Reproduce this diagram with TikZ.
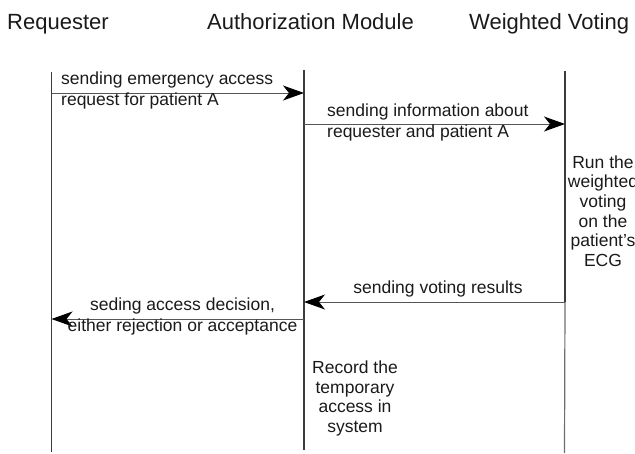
\documentclass[tikz,border=0pt]{standalone}
\usepackage{fontspec}
\setmainfont{Liberation Sans}
\usetikzlibrary{arrows.meta}
\definecolor{ink}{HTML}{1A1A1A}
\definecolor{lifeclr}{HTML}{3C3C3C}
\definecolor{lifelow}{HTML}{6E6E6E}
\definecolor{msgclr}{HTML}{555555}
\tikzset{
  heading/.style={anchor=base west, inner sep=0pt, text=ink, font=\fontsize{22}{26}\selectfont},
  msgtext/.style={inner sep=0pt, text=ink, font=\fontsize{17.5}{21}\selectfont},
  notetext/.style={inner sep=0pt, text=ink, align=center, anchor=base},
  lifeline/.style={draw=lifeclr, line width=1.4pt},
  msg/.style={draw=msgclr, line width=1pt,
    -{Stealth[length=21pt,width=15pt,inset=6pt,color=black,fill=black]}},
}
\begin{document}
\begin{tikzpicture}[x=1pt,y=-1pt]
  \useasboundingbox (0,0) rectangle (635,453);

  % participants
  \node[heading] (hreq)  at (7,29)   {Requester};
  \node[heading] (hauth) at (207,29) {Authorization Module};
  \node[heading] (hwv)   at (469,29) {Weighted Voting};

  % lifelines
  \coordinate (reqtop)  at (51.5,72);
  \coordinate (reqbot)  at (51.5,452);
  \coordinate (authtop) at (304,70);
  \coordinate (authbot) at (304,450);
  \coordinate (wvtop)   at (565,71);
  \coordinate (wvmid)   at (565,302);
  \coordinate (wvbot)   at (564.5,453);
  \draw[lifeline] (reqtop) -- (reqbot);
  \draw[lifeline] (authtop) -- (authbot);
  \draw[lifeline] (wvtop) -- (wvmid);
  \draw[lifeline, draw=lifelow, line width=1.2pt] (wvmid) -- (wvbot);

  % message end points on the lifelines
  \coordinate (r1) at (51.5,93);
  \coordinate (a1) at (304,93);
  \coordinate (a2) at (304,124);
  \coordinate (w2) at (565,124);
  \coordinate (w3) at (565,302);
  \coordinate (a3) at (304,302);
  \coordinate (a4) at (304,319);
  \coordinate (r4) at (51.5,319);

  % messages
  \draw[msg] (r1) -- (a1);
  \node[msgtext, anchor=base west, align=left] (t1) at (61,105)
    {sending emergency access\\request for patient A};

  \draw[msg] (a2) -- (w2);
  \node[msgtext, anchor=base west, align=left] (t2) at (327,137)
    {sending information about\\requester and patient A};

  \draw[msg] (w3) -- (a3);
  \node[msgtext, anchor=base] (t3) at (438,293) {sending voting results};

  \draw[msg] (a4) -- (r4);
  \node[msgtext, anchor=base, align=center] (t4) at (182.5,331)
    {seding access decision,\\either rejection or acceptance};

  % local actions
  \node[notetext, font=\fontsize{17.5}{19.7}\selectfont] (run) at (603,266.5)
    {Run the\\weighted\\voting\\on the\\patient’s\\ECG};
  \node[notetext, font=\fontsize{17.5}{19.5}\selectfont] (rec) at (355,432)
    {Record the\\temporary\\access in\\system};
\end{tikzpicture}
\end{document}
